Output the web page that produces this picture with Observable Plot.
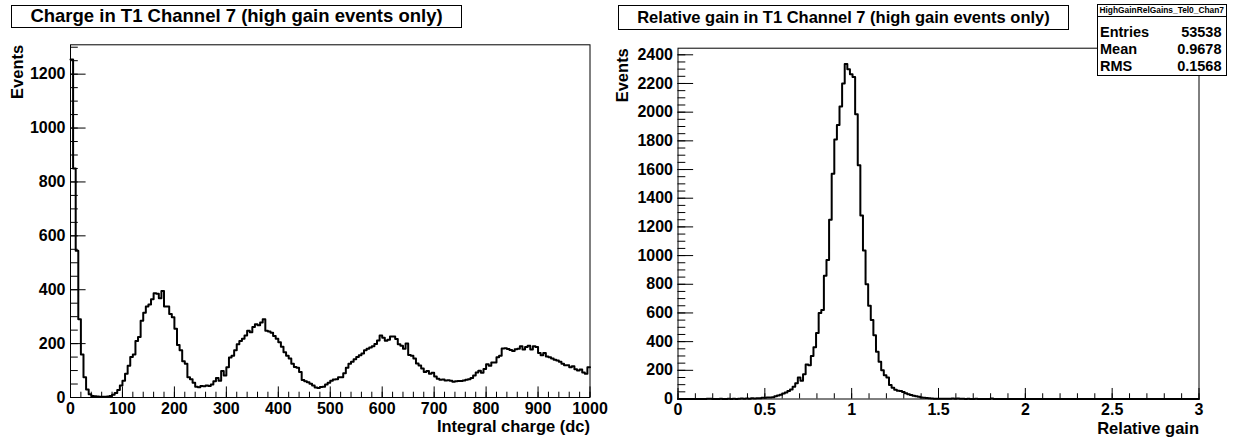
<!DOCTYPE html>
<html>
<head>
<meta charset="utf-8">
<script src="https://cdn.jsdelivr.net/npm/d3@7"></script>
<script src="https://cdn.jsdelivr.net/npm/@observablehq/plot@0.6"></script>
<style>
  body { margin: 0; background: #fff; }
  #root { position: relative; width: 1242px; height: 438px; overflow: hidden;
          font-family: "Liberation Sans", Arial, Helvetica, sans-serif; font-weight: bold; color: #000; background: #fff; }
  #root svg { position: absolute; top: 0; }
  .tbox { position: absolute; border: 1px solid #000; background: #fff; box-sizing: border-box;
          display: flex; align-items: center; justify-content: center; white-space: nowrap; z-index: 2; }
  #stats { position: absolute; left: 1097px; top: 3.5px; width: 129.5px; height: 72.5px; border: 1px solid #000;
           background: #fff; box-sizing: border-box; z-index: 2; }
  #stats .hdr { position: absolute; left: 0; right: 0; top: 0; height: 11px; border-bottom: 1px solid #000;
                font-size: 8.4px; line-height: 11px; text-align: center; white-space: nowrap; }
  #stats .row { position: absolute; left: 2px; right: 4px; height: 16px; font-size: 14.5px; line-height: 16px; }
  #stats .row span:last-child { position: absolute; right: 0; }
</style>
</head>
<body>
<div id="root">
  <div class="tbox" id="t1" style="left:11px; top:4.5px; width:451px; height:23.5px; font-size:18.5px;"></div>
  <div class="tbox" id="t2" style="left:618px; top:4.5px; width:451px; height:25px; font-size:16.5px;"></div>
  <div id="stats"></div>
</div>
<script>
// ---------- data ----------
const titles = ["Charge in T1 Channel 7 (high gain events only)", "Relative gain in T1 Channel 7 (high gain events only)"];
const xTitles = ["Integral charge (dc)", "Relative gain"];
const yTitle = "Events";
const statsName = "HighGainRelGains_Tel0_Chan7";
const statsLabels = ["Entries", "Mean", "RMS"];
const statsValues = ["53538", "0.9678", "0.1568"];

// charge histogram: 200 bins of 5 dc over [0, 1000]
const chargeBinWidth = 5;
const chargeCounts = [
  1254, 850, 545, 290, 160, 75, 30, 12, 6, 5,
  4, 3, 3, 3, 4, 6, 10, 17, 28, 45,
  62, 88, 118, 150, 160, 210, 225, 285, 315, 338,
  345, 365, 387, 385, 368, 395, 338, 338, 310, 298,
  255, 195, 175, 135, 125, 75, 68, 55, 40, 38,
  43, 42, 45, 43, 48, 60, 72, 62, 98, 82,
  112, 148, 155, 175, 198, 210, 218, 230, 248, 242,
  262, 272, 268, 278, 290, 248, 245, 240, 228, 218,
  205, 188, 168, 155, 145, 125, 113, 110, 95, 65,
  60, 57, 51, 45, 37, 35, 39, 40, 48, 55,
  62, 67, 68, 75, 75, 90, 110, 125, 133, 142,
  150, 157, 163, 175, 181, 186, 190, 199, 212, 230,
  222, 211, 214, 226, 226, 217, 198, 192, 181, 200,
  158, 155, 145, 126, 119, 108, 95, 98, 88, 92,
  78, 70, 66, 67, 63, 64, 62, 58, 60, 61,
  61, 63, 66, 68, 72, 82, 93, 99, 92, 106,
  123, 118, 130, 130, 149, 155, 182, 183, 180, 176,
  173, 179, 181, 190, 178, 187, 192, 178, 190, 187,
  165, 157, 165, 152, 149, 145, 140, 137, 133, 125,
  120, 120, 112, 116, 105, 100, 104, 93, 88, 112
];

// relative gain histogram: 200 bins of 0.015 over [0, 3]
const gainBinWidth = 0.015;
const gainCounts = [
  0, 0, 0, 0, 0, 0, 0, 0, 0, 0,
  0, 2, 1, 0, 0, 0, 1, 0, 0, 1,
  0, 1, 0, 2, 3, 1, 4, 2, 5, 3,
  6, 5, 8, 9, 10, 11, 13, 20, 24, 30,
  38, 46, 55, 66, 85, 110, 150, 128, 172, 240,
  235, 300, 360, 460, 600, 620, 860, 970, 1250, 1570,
  1810, 1910, 2040, 2200, 2335, 2300, 2265, 2245, 1985, 1630,
  1280, 1035, 800, 650, 550, 445, 330, 260, 200, 165,
  150, 98, 78, 65, 58, 55, 48, 40, 33, 28,
  22, 19, 15, 11, 9, 7, 5, 3, 2, 2,
  1, 2, 1, 1, 2, 3, 1, 4, 2, 1,
  0, 1, 0, 0, 1, 0, 0, 0, 0, 0,
  3, 0, 0, 0, 0, 0, 0, 0, 0, 0,
  0, 0, 0, 0, 0, 0, 0, 0, 0, 0,
  0, 0, 0, 0, 0, 0, 0, 0, 0, 0,
  0, 0, 0, 0, 0, 0, 0, 0, 0, 0,
  0, 0, 0, 0, 0, 0, 0, 0, 0, 0,
  0, 0, 0, 0, 0, 0, 0, 0, 0, 0,
  0, 0, 0, 0, 0, 0, 0, 0, 0, 0,
  0, 0, 0, 0, 0, 0, 0, 0, 0, 0
];

// axis ticks
const chargeXTicks = [0, 100, 200, 300, 400, 500, 600, 700, 800, 900, 1000];
const chargeYTicks = [0, 200, 400, 600, 800, 1000, 1200];
const gainXTicks = [0, 0.5, 1, 1.5, 2, 2.5, 3];
const gainXTickLabels = ["0", "0.5", "1", "1.5", "2", "2.5", "3"];
const gainYTicks = [0, 200, 400, 600, 800, 1000, 1200, 1400, 1600, 1800, 2000, 2200, 2400];

// ---------- helpers ----------
function stepPoints(counts, w) {
  const pts = counts.map((c, i) => ({x: i * w, y: c}));
  pts.push({x: counts.length * w, y: counts[counts.length - 1]});
  return pts;
}

const FONT = '"Liberation Sans", Arial, Helvetica, sans-serif';

function panel(o) {
  const H = 438;
  const fw = o.width - o.ml - o.mr;
  const fh = H - o.mt - o.mb;
  const yLen = 0.03 * fw, xLen = 0.03 * fh;
  return Plot.plot({
    width: o.width, height: H,
    marginLeft: o.ml, marginRight: o.mr, marginTop: o.mt, marginBottom: o.mb,
    x: {domain: o.xDomain},
    y: {domain: o.yDomain},
    style: {fontFamily: FONT, fontWeight: "bold", fontSize: "16px", color: "#000", background: "transparent", overflow: "visible"},
    marks: [
      Plot.tickY(o.yMinor, {y: d => d, stroke: "#000", strokeWidth: 1, insetRight: fw - yLen / 2}),
      Plot.tickY(o.yMajor, {y: d => d, stroke: "#000", strokeWidth: 1, insetRight: fw - yLen}),
      Plot.tickX(o.xMinor, {x: d => d, stroke: "#000", strokeWidth: 1, insetTop: fh - xLen / 2}),
      Plot.tickX(o.xMajor, {x: d => d, stroke: "#000", strokeWidth: 1, insetTop: fh - xLen}),
      Plot.line(stepPoints(o.counts, o.binW), {x: "x", y: "y", curve: "step-after", stroke: "#000", strokeWidth: 2}),
      Plot.frame({stroke: "#000", strokeWidth: 1}),
      Plot.axisY(o.yMajor, {tickSize: 0, tickPadding: 5, label: null, fontWeight: "bold", tickFormat: d => String(d)}),
      Plot.axisX(o.xMajor, {tickSize: 0, tickPadding: 5, label: null, fontWeight: "bold", tickFormat: o.xFormat}),
      Plot.text([o.xTitle], {text: d => d, frameAnchor: "bottom-right", textAnchor: "end", lineAnchor: "middle", dy: 29.5, fontSize: 16.5, fontWeight: "bold"}),
      Plot.text([yTitle], {text: d => d, frameAnchor: "top-left", textAnchor: "end", lineAnchor: "middle", rotate: -90, dx: o.yTitleDx, fontSize: 16.5, fontWeight: "bold"})
    ]
  });
}

const root = document.getElementById("root");

const left = panel({
  counts: chargeCounts, binW: chargeBinWidth,
  width: 600, ml: 70, mr: 10.5, mt: 44.3, mb: 41,
  xDomain: [0, 1000], yDomain: [0, 1309],
  xMajor: chargeXTicks, xMinor: d3.range(0, 1001, 20),
  yMajor: chargeYTicks, yMinor: d3.range(0, 1301, 50),
  xFormat: d => String(d), xTitle: xTitles[0], yTitleDx: -53
});
left.style.left = "0px";
root.appendChild(left);

const right = panel({
  counts: gainCounts, binW: gainBinWidth,
  width: 642, ml: 77.5, mr: 43.5, mt: 47.7, mb: 39.5,
  xDomain: [0, 3], yDomain: [0, 2446],
  xMajor: gainXTicks, xMinor: d3.range(0, 31, 1).map(d => d / 10),
  yMajor: gainYTicks, yMinor: d3.range(0, 2401, 50),
  xFormat: d => gainXTickLabels[gainXTicks.indexOf(d)], xTitle: xTitles[1], yTitleDx: -55
});
right.style.left = "600px";
root.appendChild(right);

document.getElementById("t1").textContent = titles[0];
document.getElementById("t2").textContent = titles[1];

const stats = document.getElementById("stats");
const hdr = document.createElement("div");
hdr.className = "hdr";
hdr.textContent = statsName;
stats.appendChild(hdr);
const rowTops = [19.5, 36.3, 53];
statsLabels.forEach((lab, i) => {
  const r = document.createElement("div");
  r.className = "row";
  r.style.top = rowTops[i] + "px";
  const a = document.createElement("span"); a.textContent = lab;
  const b = document.createElement("span"); b.textContent = statsValues[i];
  r.appendChild(a); r.appendChild(b);
  stats.appendChild(r);
});
</script>
</body>
</html>
